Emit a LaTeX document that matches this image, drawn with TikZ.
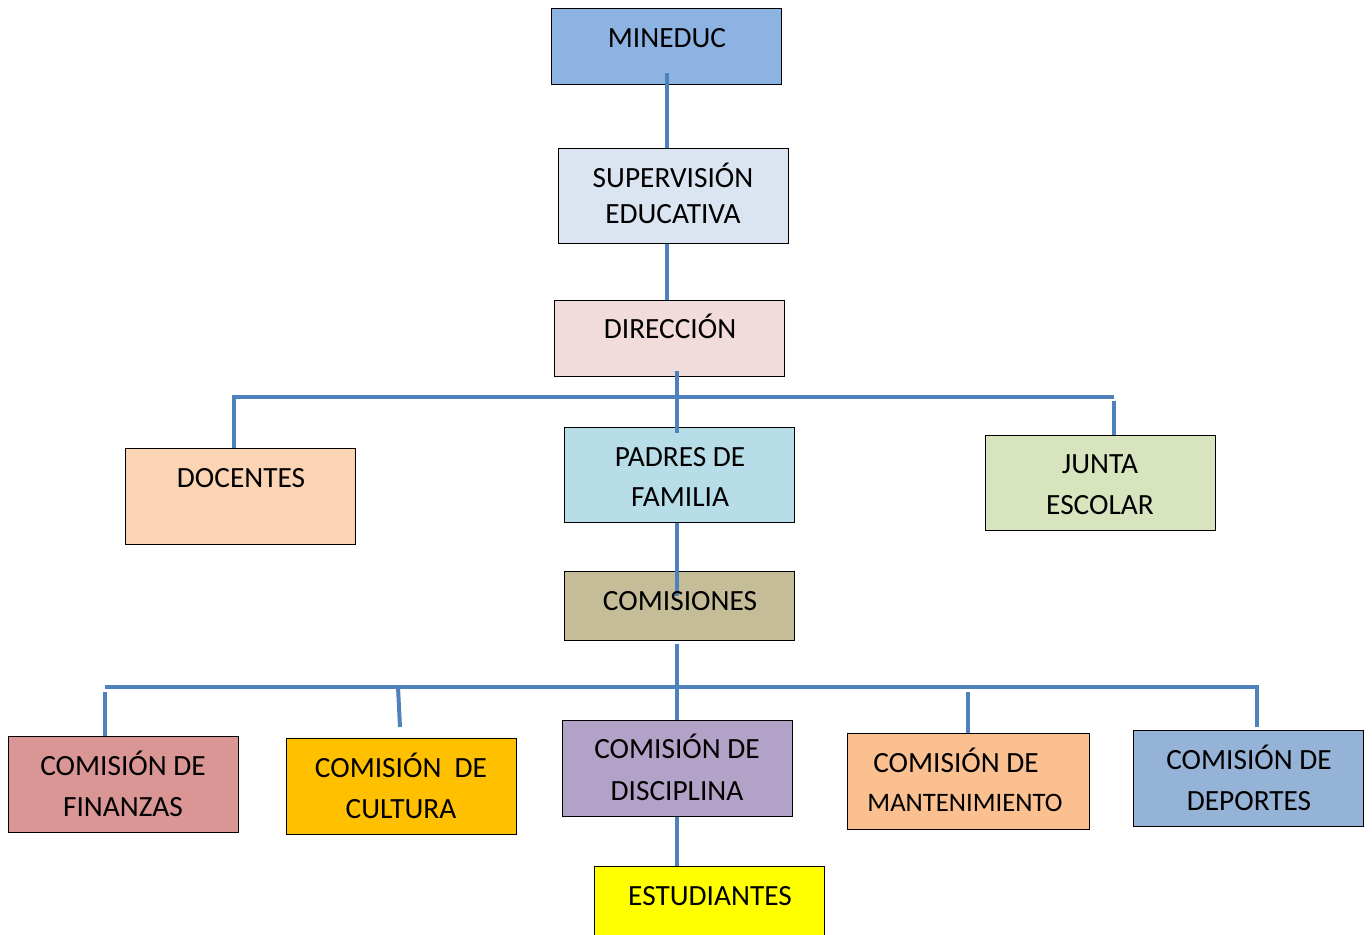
\documentclass[tikz,border=0pt]{standalone}
\usepackage{fontspec}
\setmainfont{Carlito}
\definecolor{cMin}{HTML}{8DB3E2}
\definecolor{cSup}{HTML}{DBE5F1}
\definecolor{cDir}{HTML}{F2DCDB}
\definecolor{cDoc}{HTML}{FBD4B4}
\definecolor{cPad}{HTML}{B7DDE8}
\definecolor{cJun}{HTML}{D7E4BD}
\definecolor{cComs}{HTML}{C4BD97}
\definecolor{cFin}{HTML}{D99694}
\definecolor{cCul}{HTML}{FFC000}
\definecolor{cDis}{HTML}{B3A2C7}
\definecolor{cMan}{HTML}{FAC090}
\definecolor{cDep}{HTML}{95B3D7}
\definecolor{cEst}{HTML}{FFFF00}
\definecolor{cLine}{HTML}{4F81BD}
\tikzset{
  box/.style={draw=black, line width=1.05pt, anchor=north west, inner sep=0pt, minimum width=172.5pt, minimum height=72pt},
  lbl/.style={anchor=base, inner sep=0pt, font=\fontsize{22}{26}\selectfont},
  conn/.style={draw=cLine, line width=3pt}
}
\begin{document}
\begin{tikzpicture}[x=0.75pt,y=-0.75pt]
\useasboundingbox (0,0) rectangle (1372,935);
\clip (0,0) rectangle (1372,935);
\fill[white] (0,0) rectangle (1372,935);
% boxes
\node[box, fill=cMin, minimum height=57pt] (min) at (551,8) {};
\node[box, fill=cSup, minimum height=71.25pt] (sup) at (558,148) {};
\node[box, fill=cDir, minimum height=57pt] (dir) at (554,300) {};
\node[box, fill=cDoc] (doc) at (125,448) {};
\node[box, fill=cPad, minimum height=71.25pt] (pad) at (564,427) {};
\node[box, fill=cJun, minimum height=71.25pt] (jun) at (985,435) {};
\node[box, fill=cComs, minimum height=51.75pt] (coms) at (564,571) {};
\node[box, fill=cFin] (fin) at (8,736) {};
\node[box, fill=cCul] (cul) at (286,738) {};
\node[box, fill=cDis] (dis) at (562,720) {};
\node[box, fill=cMan, minimum width=181.5pt] (man) at (847,733) {};
\node[box, fill=cDep] (dep) at (1133,730) {};
\node[box, fill=cEst, minimum height=60pt] (est) at (594,866) {};
% coordinates
\coordinate (c1) at (667,73);
\coordinate (c2) at (677,371);
\coordinate (c3) at (677,433);
\coordinate (busL) at (234,397);
\coordinate (busR) at (1114,397);
\coordinate (busRd) at (1114,401);
\coordinate (c4) at (677,596);
\coordinate (c5) at (677,644);
\coordinate (bus2L) at (105,687);
\coordinate (bus2Ld) at (105,692);
\coordinate (bus2R) at (1257,687);
\coordinate (c6) at (398,687);
\coordinate (c7) at (400,727);
\coordinate (c8) at (968,692);
\coordinate (c9) at (968,733);
\coordinate (c10) at (1257,727);
% connectors
\draw[conn] (c1) -- (c1 |- sup.north);
\draw[conn] (sup.south -| c1) -- (dir.north -| c1);
\draw[conn] (c2) -- (c3);
\draw[conn] (doc.north -| busL) -- (busL) -- (busR);
\draw[conn] (busRd) -- (jun.north -| busRd);
\draw[conn] (pad.south -| c4) -- (c4);
\draw[conn] (c5) -- (dis.north -| c5);
\draw[conn] (bus2L) -- (bus2R) -- (c10);
\draw[conn] (bus2Ld) -- (fin.north -| bus2Ld);
\draw[conn] (c6) -- (c7);
\draw[conn] (c8) -- (c9);
\draw[conn] (dis.south -| c5) -- (est.north -| c5);
% labels
\node[lbl] (tmin) at (667,47) {MINEDUC};
\node[lbl] (tsup1) at (673,187) {SUPERVISIÓN};
\node[lbl] (tsup2) at (673,223) {EDUCATIVA};
\node[lbl] (tdir) at (670,338) {DIRECCIÓN};
\node[lbl] (tdoc) at (241,487) {DOCENTES};
\node[lbl] (tpad1) at (680,466) {PADRES DE};
\node[lbl] (tpad2) at (680,506) {FAMILIA};
\node[lbl] (tjun1) at (1100,473) {JUNTA};
\node[lbl] (tjun2) at (1100,514) {ESCOLAR};
\node[lbl] (tcoms) at (680,610) {COMISIONES};
\node[lbl] (tfin1) at (123,775) {COMISIÓN DE};
\node[lbl] (tfin2) at (123,816) {FINANZAS};
\node[lbl] (tcul1) at (401,777) {COMISIÓN\ \ DE};
\node[lbl] (tcul2) at (401,818) {CULTURA};
\node[lbl] (tdis1) at (677,758) {COMISIÓN DE};
\node[lbl] (tdis2) at (677,800) {DISCIPLINA};
\node[lbl] (tman1) at (956,772) {COMISIÓN DE};
\node[lbl, font=\fontsize{20}{24}\selectfont] (tman2) at (965,811) {MANTENIMIENTO};
\node[lbl] (tdep1) at (1249,769) {COMISIÓN DE};
\node[lbl] (tdep2) at (1249,810) {DEPORTES};
\node[lbl] (test) at (710,905) {ESTUDIANTES};
\end{tikzpicture}
\end{document}
